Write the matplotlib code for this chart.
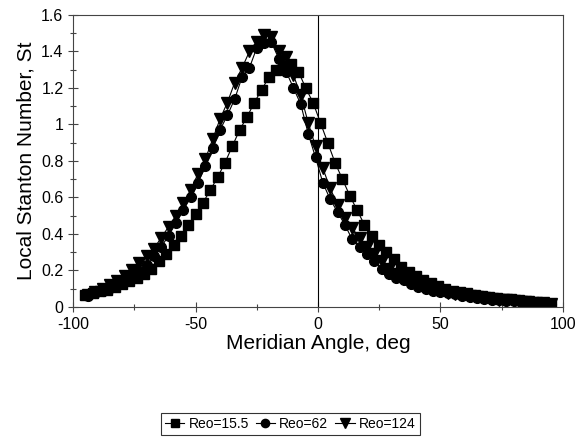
import matplotlib
matplotlib.use("Agg")
import matplotlib.pyplot as plt
from matplotlib.ticker import MultipleLocator

plt.rcParams['font.family'] = ['Liberation Sans', 'DejaVu Sans']
plt.rcParams['axes.unicode_minus'] = False

# Reo=15.5 (squares)
ang_15 = [-95, -92, -89, -86, -83, -80, -77, -74, -71, -68, -65, -62, -59, -56, -53,
          -50, -47, -44, -41, -38, -35, -32, -29, -26, -23, -20, -17, -14, -11, -8,
          -5, -2, 1, 4, 7, 10, 13, 16, 19, 22, 25, 28, 31, 34, 37, 40, 43, 46, 49,
          52, 55, 58, 61, 64, 67, 70, 73, 76, 79, 82, 85, 88, 91, 95]
st_15 = [0.065, 0.075, 0.085, 0.095, 0.11, 0.125, 0.14, 0.16, 0.18, 0.21, 0.25, 0.29,
         0.34, 0.39, 0.45, 0.51, 0.57, 0.64, 0.71, 0.79, 0.88, 0.97, 1.04, 1.12, 1.19,
         1.26, 1.30, 1.32, 1.33, 1.29, 1.20, 1.12, 1.01, 0.90, 0.79, 0.70, 0.61, 0.53,
         0.45, 0.39, 0.34, 0.30, 0.26, 0.22, 0.19, 0.17, 0.145, 0.13, 0.115, 0.10, 0.09,
         0.08, 0.075, 0.068, 0.062, 0.056, 0.05, 0.046, 0.041, 0.036, 0.032, 0.028,
         0.024, 0.018]

# Reo=62 (circles)
ang_62 = [-94, -91, -88, -85, -82, -79, -76, -73, -70, -67, -64, -61, -58, -55, -52,
          -49, -46, -43, -40, -37, -34, -31, -28, -25, -22, -19, -16, -13, -10, -7,
          -4, -1, 2, 5, 8, 11, 14, 17, 20, 23, 26, 29, 32, 35, 38, 41, 44, 47, 50,
          53, 56, 59, 62, 65, 68, 71, 74, 77, 80, 83, 86, 89, 92, 95]
st_62 = [0.06, 0.075, 0.09, 0.105, 0.125, 0.145, 0.17, 0.195, 0.23, 0.28, 0.33, 0.39,
         0.46, 0.53, 0.60, 0.68, 0.77, 0.87, 0.97, 1.05, 1.14, 1.26, 1.31, 1.42, 1.445,
         1.45, 1.36, 1.29, 1.20, 1.11, 0.95, 0.82, 0.68, 0.59, 0.52, 0.45, 0.37, 0.33,
         0.29, 0.25, 0.21, 0.18, 0.16, 0.145, 0.125, 0.11, 0.10, 0.09, 0.08, 0.075,
         0.07, 0.06, 0.055, 0.05, 0.045, 0.04, 0.037, 0.033, 0.03, 0.027, 0.024, 0.02,
         0.017, 0.015]

# Reo=124 (down triangles)
ang_124 = [-94, -91, -88, -85, -82, -79, -76, -73, -70, -67, -64, -61, -58, -55, -52,
           -49, -46, -43, -40, -37, -34, -31, -28, -25, -22, -19, -16, -13, -10, -7,
           -4, -1, 2, 5, 8, 11, 14, 17, 20, 23, 26, 29, 32, 35, 38, 41, 44, 47, 50,
           53, 56, 59, 62, 65, 68, 71, 74, 77, 80, 83, 86, 89, 92, 95]
st_124 = [0.065, 0.08, 0.10, 0.12, 0.14, 0.17, 0.20, 0.24, 0.28, 0.32, 0.38, 0.44,
          0.50, 0.57, 0.64, 0.73, 0.81, 0.92, 1.03, 1.12, 1.23, 1.31, 1.40, 1.45, 1.49,
          1.48, 1.40, 1.37, 1.27, 1.16, 1.01, 0.88, 0.76, 0.65, 0.56, 0.49, 0.43, 0.38,
          0.33, 0.29, 0.25, 0.21, 0.18, 0.16, 0.14, 0.12, 0.105, 0.095, 0.085, 0.075,
          0.07, 0.065, 0.06, 0.055, 0.05, 0.045, 0.04, 0.036, 0.032, 0.028, 0.025,
          0.022, 0.019, 0.016]

fig = plt.figure(figsize=(5.76, 4.41), dpi=100)
ax = fig.add_axes([0.127, 0.304, 0.850, 0.662])

ax.plot(ang_15, st_15, '-s', color='black', lw=0.8, ms=7, label='Reo=15.5')
ax.plot(ang_62, st_62, '-o', color='black', lw=0.8, ms=7, label='Reo=62')
ax.plot(ang_124, st_124, '-v', color='black', lw=0.8, ms=8, label='Reo=124')
ax.axvline(0, color='black', lw=0.8)

ax.set_xlim(-100, 100)
ax.set_ylim(0, 1.6)
ax.xaxis.set_major_locator(MultipleLocator(50))
ax.xaxis.set_minor_locator(MultipleLocator(25))
ax.yaxis.set_minor_locator(MultipleLocator(0.1))
ax.set_yticks([0, 0.2, 0.4, 0.6, 0.8, 1.0, 1.2, 1.4, 1.6])
ax.set_yticklabels(['0', '0.2', '0.4', '0.6', '0.8', '1', '1.2', '1.4', '1.6'])
ax.tick_params(which='both', direction='inout', labelsize=11.5, width=0.8, color='#444444')
ax.tick_params(which='major', length=7)
ax.tick_params(which='minor', length=5)
for s in ax.spines.values():
    s.set_linewidth(0.8)
    s.set_color('#444444')

ax.set_xlabel('Meridian Angle, deg', fontsize=15, labelpad=2)
ax.set_ylabel('Local Stanton Number, St', fontsize=15, labelpad=4)

leg = fig.legend(loc='center', ncol=3, fontsize=10, frameon=True, fancybox=False,
                 edgecolor='black', handlelength=1.4, handletextpad=0.3,
                 columnspacing=0.5, borderpad=0.3, markerscale=0.85,
                 bbox_to_anchor=(0.504, 0.039), bbox_transform=fig.transFigure)
leg.get_frame().set_linewidth(0.8)

fig.savefig('out.png', dpi=100)
